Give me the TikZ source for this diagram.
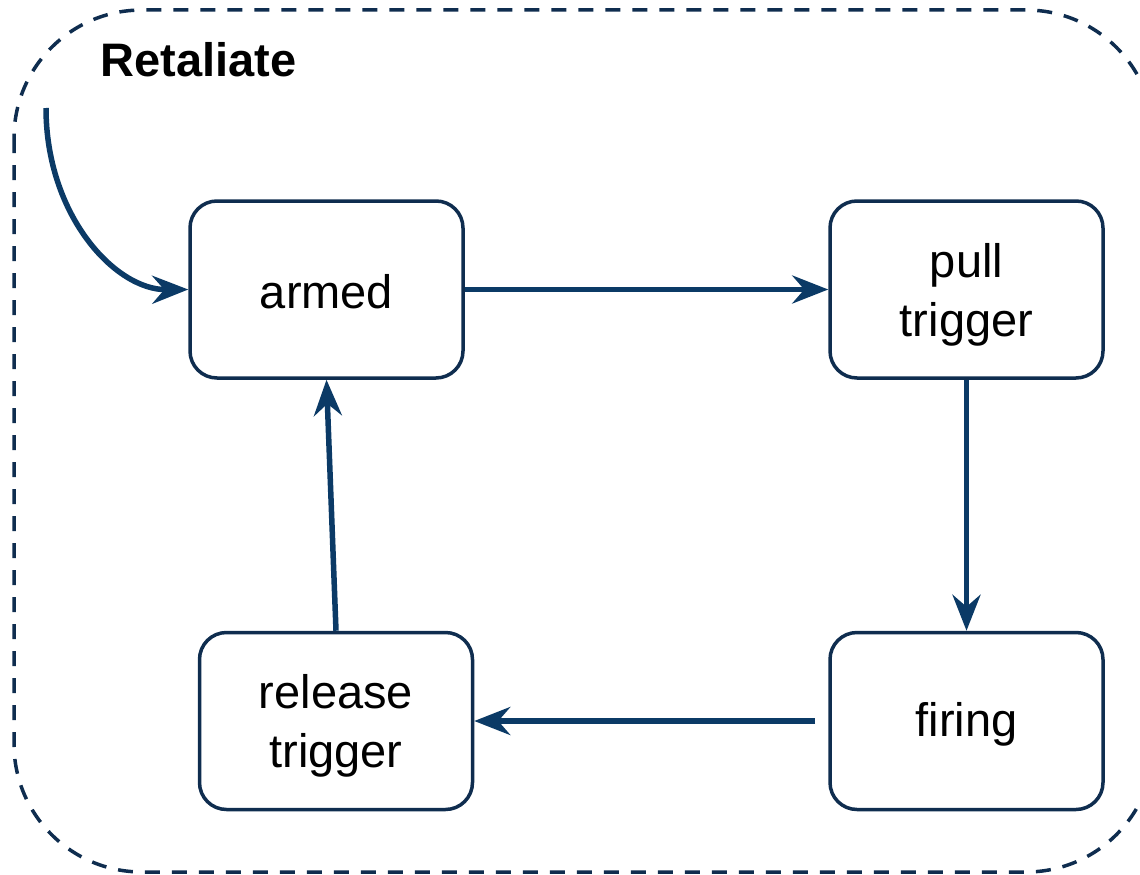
\documentclass[tikz,border=0pt]{standalone}
\usepackage{fontspec}
\setmainfont{Liberation Sans}
\usetikzlibrary{arrows.meta}
\definecolor{boxc}{HTML}{0F2D4F}
\definecolor{edgec}{HTML}{0B3A66}
\tikzset{
  state/.style={draw=boxc, line width=3.5pt, rounded corners=27pt, minimum width=273pt, minimum height=177pt, inner sep=0pt, fill=white},
  txt/.style={align=center, inner sep=0pt, font=\fontsize{47}{59}\selectfont},
  conn/.style={draw=edgec, line width=5.5pt, -{Stealth[length=36pt,width=28pt,inset=12pt]}},
  frame/.style={draw=boxc, line width=3.5pt, dash pattern=on 15pt off 12pt, rounded corners=128pt}
}
\begin{document}
\begin{tikzpicture}[x=1pt,y=-1pt]
\useasboundingbox (0,0) rectangle (1140,875);
\draw[frame] (14,10) rectangle (1154,872);
\node[anchor=base west, font=\fontsize{47}{57}\selectfont\bfseries] (title) at (97,76) {Retaliate};
\node[state] (armed) at (326.5,289.5) {};
\node[state] (pull) at (966.5,289.5) {};
\node[state] (firing) at (966.5,721) {};
\node[state] (release) at (336,721) {};
\node[txt] (armedt) at ([yshift=-2pt]armed.center) {armed};
\node[txt] (pullt) at ([yshift=-5pt]pull.center) {pull\\trigger};
\node[txt] (firingt) at ([yshift=-3pt]firing.center) {firing};
\node[txt] (releaset) at ([yshift=-5pt]release.center) {release\\trigger};
\coordinate (init) at (46,108);
\coordinate (fstart) at (815,721);
\draw[conn] (init) .. controls (46,215) and (115,290) .. (armed.west);
\draw[conn] (armed.east) -- (pull.west);
\draw[conn] (pull.south) -- (firing.north);
\draw[conn] (fstart) -- (release.east);
\draw[conn] (release.north) -- (armed.south);
\end{tikzpicture}
\end{document}
